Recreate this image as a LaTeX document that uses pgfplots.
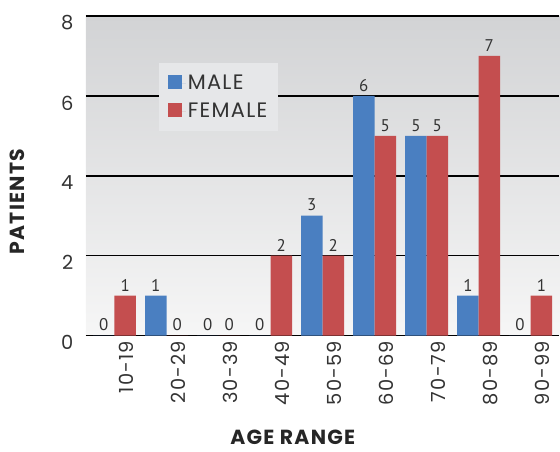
\documentclass[border=0pt]{standalone}
\usepackage{pgfplots}
\pgfplotsset{compat=1.18}
\usepackage{fontspec}
\setmainfont{Poppins}
\newfontfamily\widefont[LetterSpace=6]{Poppins}
\newfontfamily\valfont{PT Sans}
\definecolor{maleblue}{HTML}{4A7FC1}
\definecolor{femred}{HTML}{C44E4F}
\definecolor{bgtop}{HTML}{D2D3D5}
\definecolor{bgbot}{HTML}{F6F6F6}
\definecolor{legfill}{HTML}{E6E7E9}
\definecolor{txt}{HTML}{333333}

% patients per age range
\pgfplotstableread{
x male female
0 0 1
1 1 0
2 0 0
3 0 2
4 3 2
5 6 5
6 5 5
7 1 7
8 0 1
}\agedata

\begin{document}
\begin{tikzpicture}
\begin{axis}[
  scale only axis,
  width=474bp, height=320bp,
  xmin=-0.55, xmax=8.55,
  ymin=0, ymax=8,
  ytick={0,2,4,6,8},
  xtick={0,...,8},
  xticklabels={10-19,20-29,30-39,40-49,50-59,60-69,70-79,80-89,90-99},
  /pgf/number format/assume math mode=true,
  ybar=0pt, bar width=21.5bp,
  axis background/.style={top color=bgtop, bottom color=bgbot},
  axis x line*=bottom,
  axis y line*=left,
  y axis line style={draw=none},
  x axis line style={black, line width=1.5bp, -},
  major tick length=0pt,
  ymajorgrids,
  major grid style={black, line width=1.5bp},
  tick label style={font=\widefont\fontsize{19.5}{19.5}\selectfont, text=txt},
  yticklabel style={yshift=-7bp, xshift=-9bp},
  xticklabel style={rotate=90, anchor=east, xshift=-2bp, yshift=-12bp},
  xlabel={AGE RANGE},
  ylabel={PATIENTS},
  label style={font=\widefont\bfseries\fontsize{20.5}{20.5}\selectfont, text=black!85},
  xlabel style={at={(axis description cs:0.437,-0.319)}, anchor=center},
  ylabel style={at={(axis description cs:-0.1456,0.419)}, anchor=center, rotate=0},
  nodes near coords,
  every node near coord/.append style={font=\valfont\fontsize{17}{17}\selectfont, text=txt, yshift=1bp},
  legend style={at={(axis description cs:0.154,0.853)}, anchor=north west,
    fill=legfill, draw=none, font=\widefont\fontsize{21}{21}\selectfont,
    inner xsep=9bp, inner ysep=10bp, row sep=8bp, text=txt},
  legend cell align=left,
  legend image code/.code={\path (0bp,0bp) -- (18bp,0bp);
    \fill[#1] (0bp,-6bp) rectangle (14bp,8bp);},
  clip=false,
]
\addplot[fill=maleblue, draw=none] table[x=x, y=male] {\agedata};
\addlegendentry{MALE}
\addplot[fill=femred, draw=none] table[x=x, y=female] {\agedata};
\addlegendentry{FEMALE}
\end{axis}
\useasboundingbox (-86bp,-116bp) rectangle (474bp,336bp);
\end{tikzpicture}
\end{document}
